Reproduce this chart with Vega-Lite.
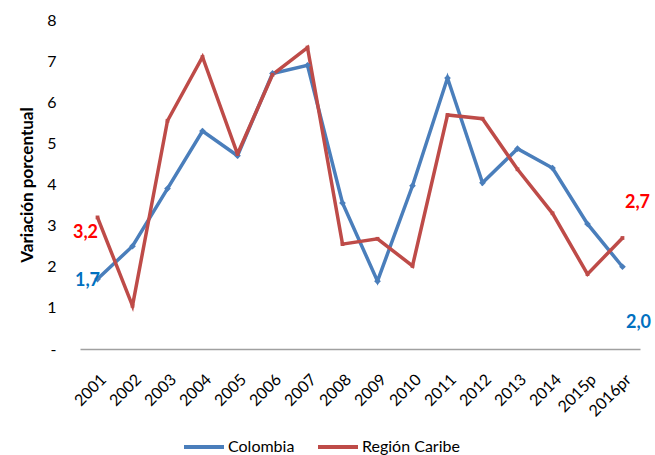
{
  "$schema": "https://vega.github.io/schema/vega-lite/v6.json",
  "autosize": "none",
  "width": 560,
  "height": 329,
  "padding": {"left": 80, "top": 20, "right": 15, "bottom": 106},
  "background": "white",
  "config": {
    "font": "Lato",
    "view": {"stroke": null},
    "locale": {"number": {"decimal": ",", "thousands": ".", "grouping": [3], "currency": ["", ""]}}
  },
  "data": {
    "values": [
      {"year": "2001", "serie": "Colombia", "value": 1.7},
      {"year": "2002", "serie": "Colombia", "value": 2.5},
      {"year": "2003", "serie": "Colombia", "value": 3.9},
      {"year": "2004", "serie": "Colombia", "value": 5.3},
      {"year": "2005", "serie": "Colombia", "value": 4.7},
      {"year": "2006", "serie": "Colombia", "value": 6.7},
      {"year": "2007", "serie": "Colombia", "value": 6.9},
      {"year": "2008", "serie": "Colombia", "value": 3.55},
      {"year": "2009", "serie": "Colombia", "value": 1.65},
      {"year": "2010", "serie": "Colombia", "value": 3.97},
      {"year": "2011", "serie": "Colombia", "value": 6.59},
      {"year": "2012", "serie": "Colombia", "value": 4.04},
      {"year": "2013", "serie": "Colombia", "value": 4.87},
      {"year": "2014", "serie": "Colombia", "value": 4.4},
      {"year": "2015p", "serie": "Colombia", "value": 3.04},
      {"year": "2016pr", "serie": "Colombia", "value": 2.0},
      {"year": "2001", "serie": "Región Caribe", "value": 3.2},
      {"year": "2002", "serie": "Región Caribe", "value": 1.05},
      {"year": "2003", "serie": "Región Caribe", "value": 5.55},
      {"year": "2004", "serie": "Región Caribe", "value": 7.1},
      {"year": "2005", "serie": "Región Caribe", "value": 4.74},
      {"year": "2006", "serie": "Región Caribe", "value": 6.67},
      {"year": "2007", "serie": "Región Caribe", "value": 7.33},
      {"year": "2008", "serie": "Región Caribe", "value": 2.55},
      {"year": "2009", "serie": "Región Caribe", "value": 2.68},
      {"year": "2010", "serie": "Región Caribe", "value": 2.02},
      {"year": "2011", "serie": "Región Caribe", "value": 5.69},
      {"year": "2012", "serie": "Región Caribe", "value": 5.6},
      {"year": "2013", "serie": "Región Caribe", "value": 4.37},
      {"year": "2014", "serie": "Región Caribe", "value": 3.3},
      {"year": "2015p", "serie": "Región Caribe", "value": 1.82},
      {"year": "2016pr", "serie": "Región Caribe", "value": 2.7}
    ]
  },
  "encoding": {
    "x": {
      "field": "year", "type": "ordinal",
      "scale": {"type": "point", "padding": 0.5},
      "axis": {
        "title": null, "labelAngle": -45, "labelFontSize": 16, "labelColor": "#000000",
        "labelFontWeight": "normal",
        "ticks": false, "tickSize": 0, "labelPadding": 22,
        "domainColor": "#a0a0a0", "domainWidth": 1.5, "grid": false
      }
    },
    "y": {
      "field": "value", "type": "quantitative",
      "scale": {"domain": [0, 8], "nice": false, "zero": true},
      "axis": {
        "title": "Variación porcentual", "titleFontSize": 17, "titleFontWeight": "bold",
        "titleColor": "#000000", "titlePadding": 10,
        "labelFontSize": 16, "labelColor": "#000000", "labelPadding": 24,
        "labelOverlap": false, "labelBound": false,
        "domain": false, "ticks": false, "grid": false,
        "values": [0, 1, 2, 3, 4, 5, 6, 7, 8],
        "labelExpr": "datum.value == 0 ? '-' : datum.label"
      }
    }
  },
  "layer": [
    {
      "mark": {"type": "line", "strokeWidth": 3.5},
      "encoding": {
        "color": {
          "field": "serie", "type": "nominal",
          "scale": {"domain": ["Colombia", "Región Caribe"], "range": ["#4A7EBB", "#BE4B48"]},
          "legend": {
            "title": null, "orient": "none", "direction": "horizontal",
            "legendX": 102, "legendY": 405, "padding": 0,
            "symbolType": "stroke", "symbolSize": 1600, "symbolStrokeWidth": 4,
            "labelFontSize": 16, "labelColor": "#000000", "columnPadding": 15, "labelOffset": 2
          }
        }
      }
    },
    {
      "transform": [{"filter": "datum.serie == 'Colombia'"}],
      "mark": {"type": "point", "shape": "diamond", "filled": true, "size": 45, "color": "#4A7EBB", "opacity": 1}
    },
    {
      "transform": [{"filter": "datum.serie == 'Región Caribe'"}],
      "mark": {"type": "point", "shape": "square", "filled": true, "size": 14, "color": "#BE4B48", "opacity": 1}
    },
    {
      "transform": [{"filter": "datum.serie == 'Colombia' && datum.year == '2001'"}],
      "mark": {"type": "text", "fontSize": 18, "fontWeight": "bold", "color": "#0070C0", "align": "center", "baseline": "middle", "dx": -10, "dy": 2},
      "encoding": {"text": {"field": "value", "type": "quantitative", "format": ".1f"}}
    },
    {
      "transform": [{"filter": "datum.serie == 'Región Caribe' && datum.year == '2001'"}],
      "mark": {"type": "text", "fontSize": 18, "fontWeight": "bold", "color": "#FF0000", "align": "center", "baseline": "middle", "dx": -12, "dy": 16},
      "encoding": {"text": {"field": "value", "type": "quantitative", "format": ".1f"}}
    },
    {
      "transform": [{"filter": "datum.serie == 'Región Caribe' && datum.year == '2016pr'"}],
      "mark": {"type": "text", "fontSize": 18, "fontWeight": "bold", "color": "#FF0000", "align": "center", "baseline": "middle", "dx": 15, "dy": -35},
      "encoding": {"text": {"field": "value", "type": "quantitative", "format": ".1f"}}
    },
    {
      "transform": [{"filter": "datum.serie == 'Colombia' && datum.year == '2016pr'"}],
      "mark": {"type": "text", "fontSize": 18, "fontWeight": "bold", "color": "#0070C0", "align": "center", "baseline": "middle", "dx": 16, "dy": 56},
      "encoding": {"text": {"field": "value", "type": "quantitative", "format": ".1f"}}
    }
  ]
}
